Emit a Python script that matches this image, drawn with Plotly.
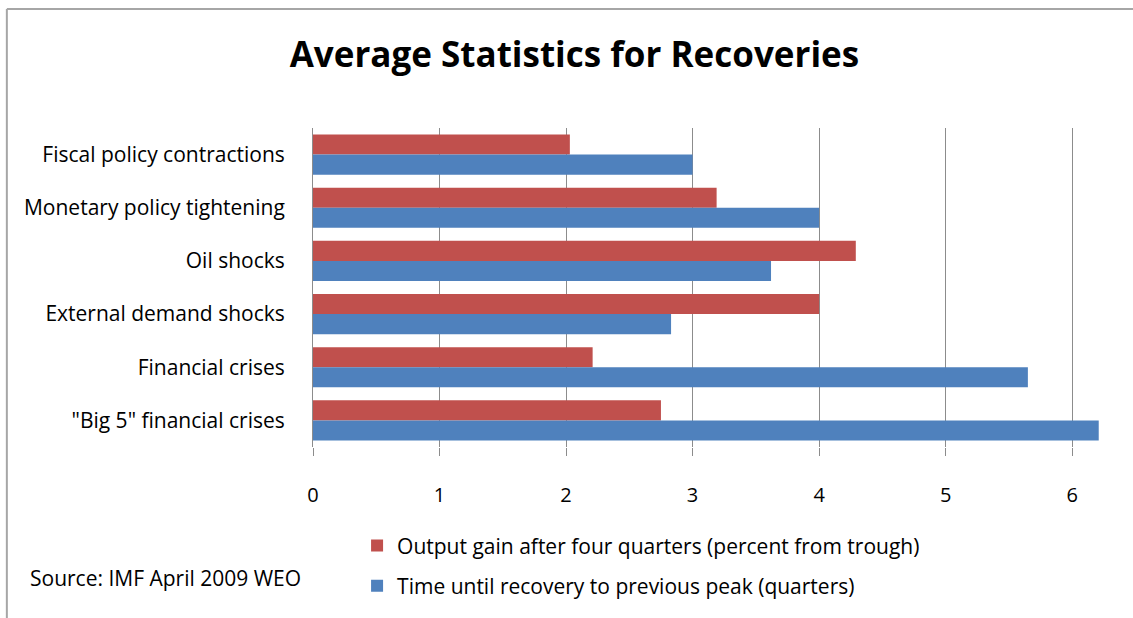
import plotly.graph_objects as go

# data
categories = [
    'Fiscal policy contractions',
    'Monetary policy tightening',
    'Oil shocks',
    'External demand shocks',
    'Financial crises',
    '"Big 5" financial crises',
]
output_gain = [2.03, 3.19, 4.29, 4.00, 2.21, 2.75]
time_to_peak = [3.00, 4.00, 3.62, 2.83, 5.65, 6.21]
x_ticks = [0, 1, 2, 3, 4, 5, 6]

red = '#C0504D'
blue = '#4F81BD'
grid = '#8C8C8C'
font = 'Open Sans'

fig = go.Figure()

fig.add_trace(go.Bar(
    y = categories, x = output_gain, orientation = 'h',
    name = 'Output gain after four quarters (percent from trough)',
    marker = dict(color = red, line = dict(width = 0)),
    legendgroup = 'a',
))
fig.add_trace(go.Bar(
    y = categories, x = time_to_peak, orientation = 'h',
    name = 'Time until recovery to previous peak (quarters)',
    marker = dict(color = blue, line = dict(width = 0)),
    legendgroup = 'b',
))

fig.update_layout(
    width = 1133,
    height = 618,
    margin = dict(l = 313, r = 33, t = 128, b = 171, autoexpand = False),
    plot_bgcolor = 'white',
    paper_bgcolor = 'white',
    barmode = 'group',
    bargap = 0.245,
    bargroupgap = 0,
    font = dict(family = font, color = 'black'),
    title = dict(
        text = '<b>Average Statistics for Recoveries</b>',
        x = 0.507, xanchor = 'center',
        y = 0.911, yanchor = 'middle',
        font = dict(size = 35, family = font, color = 'black'),
    ),
    legend = dict(
        x = 0.056, xref = 'paper', xanchor = 'left',
        y = 0.150, yref = 'container', yanchor = 'top',
        traceorder = 'grouped',
        tracegroupgap = 10,
        font = dict(size = 21, family = font),
        itemwidth = 30,
        bgcolor = 'rgba(0,0,0,0)',
    ),
)

fig.update_xaxes(
    range = [0, 6.22],
    tickvals = x_ticks,
    ticks = 'outside', ticklen = 8, tickcolor = grid,
    ticklabelstandoff = 22,
    tickfont = dict(size = 20, family = font),
    showgrid = True, gridcolor = grid, gridwidth = 1,
    zeroline = False,
    showline = False,
)
fig.update_yaxes(
    autorange = 'reversed',
    showline = True, linecolor = grid, linewidth = 1,
    ticks = '', ticklabelstandoff = 23,
    tickfont = dict(size = 21, family = font),
    showgrid = False,
)

# outer chart frame: only its top and left edges are inside the picture
frame = dict(color = '#A6A6A6', width = 2)
fig.add_shape(type = 'line', xref = 'paper', yref = 'paper',
    x0 = -0.389, x1 = 1.3, y0 = 1.373, y1 = 1.373, line = frame, layer = 'below')
fig.add_shape(type = 'line', xref = 'paper', yref = 'paper',
    x0 = -0.389, x1 = -0.389, y0 = -0.7, y1 = 1.373, line = frame, layer = 'below')

fig.add_annotation(
    text = 'Source: IMF April 2009 WEO',
    xref = 'paper', yref = 'paper',
    x = -0.362, y = -0.411, xanchor = 'left', yanchor = 'middle',
    showarrow = False,
    font = dict(size = 21, family = font),
)

# drop the default page margin so the figure sits at the window's corner
fig.write_html('out.html',
    config = {'displayModeBar': False},
    post_script = "document.body.style.margin = '0';")
